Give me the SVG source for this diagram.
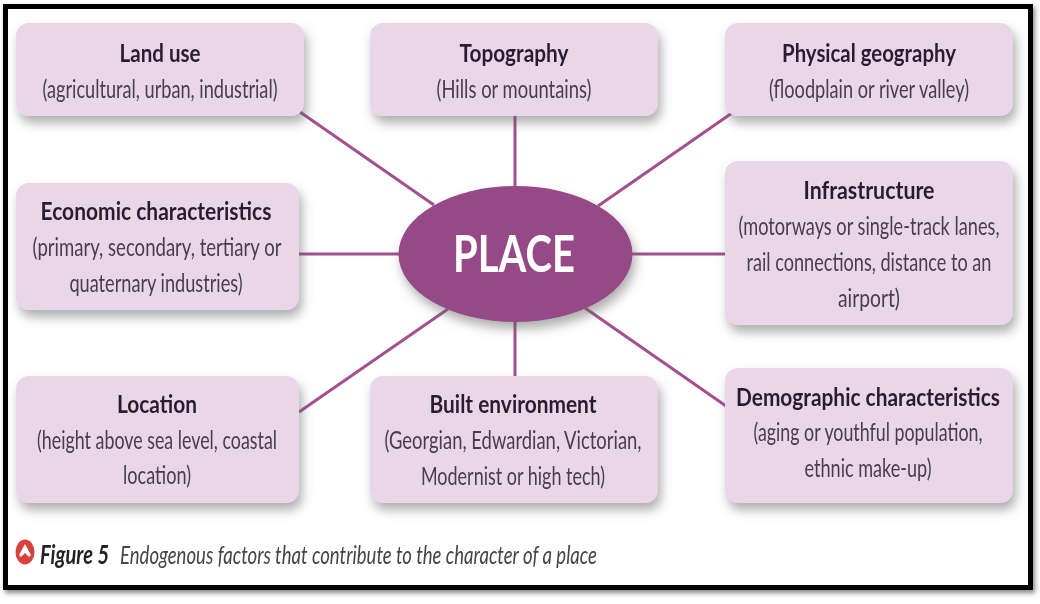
<svg xmlns="http://www.w3.org/2000/svg" width="1040" height="604" viewBox="0 0 1040 604">
<style>
.box{fill:#e9d6e9;filter:url(#sh)}
.t{font-family:"Lato","Liberation Sans",sans-serif;text-anchor:middle;fill:#493d47;font-size:25px}
.b{font-weight:700;fill:#2a1f2e}
.c{stroke:#a4508f;stroke-width:3;fill:none}
</style>
<defs>
<filter id="sh" x="-10%" y="-15%" width="125%" height="145%"><feDropShadow dx="3" dy="7" stdDeviation="5.500" flood-color="#5a5f5a" flood-opacity=".5"/></filter>
<filter id="fr" x="-2%" y="-2%" width="104%" height="104%"><feDropShadow dx="2" dy="3" stdDeviation="2.500" flood-color="#555" flood-opacity=".7"/></filter>
<filter id="bl" x="-5%" y="-5%" width="110%" height="110%"><feGaussianBlur stdDeviation=".55"/></filter>
</defs>
<rect width="1040" height="604" fill="#fff"/>
<rect x="5.500" y="6.500" width="1025" height="581" fill="#fff" stroke="#000" stroke-width="5" filter="url(#fr)"/>
<g id="connectors" class="c">
<line x1="300" y1="112" x2="434" y2="205"/>
<line x1="515" y1="114" x2="515" y2="186"/>
<line x1="732" y1="113" x2="598" y2="206"/>
<line x1="298" y1="254" x2="399" y2="254"/>
<line x1="632" y1="254" x2="726" y2="254"/>
<line x1="299" y1="412" x2="448" y2="309"/>
<line x1="515" y1="322" x2="515" y2="377"/>
<line x1="726" y1="406" x2="585" y2="308"/>
</g>
<g filter="url(#bl)">
<g id="land-use"><rect class="box" x="16" y="23" width="288" height="93" rx="13"/>
<text class="t b" transform="translate(160,62) scale(.78,1)" textLength="103.800" lengthAdjust="spacingAndGlyphs">Land use</text>
<text class="t" transform="translate(160,98) scale(.78,1)" textLength="301.300" lengthAdjust="spacingAndGlyphs">(agricultural, urban, industrial)</text></g>
<g id="topography"><rect class="box" x="370" y="23" width="288" height="93" rx="13"/>
<text class="t b" transform="translate(514,62) scale(.78,1)" textLength="139.700" lengthAdjust="spacingAndGlyphs">Topography</text>
<text class="t" transform="translate(514,98) scale(.78,1)" textLength="198.700" lengthAdjust="spacingAndGlyphs">(Hills or mountains)</text></g>
<g id="physical-geography"><rect class="box" x="725" y="23" width="288" height="93" rx="13"/>
<text class="t b" transform="translate(869,62) scale(.78,1)" textLength="223" lengthAdjust="spacingAndGlyphs">Physical geography</text>
<text class="t" transform="translate(869,98) scale(.78,1)" textLength="256.400" lengthAdjust="spacingAndGlyphs">(floodplain or river valley)</text></g>
<g id="economic-characteristics"><rect class="box" x="16" y="183" width="283" height="127" rx="13"/>
<text class="t b" transform="translate(156,220) scale(.78,1)" textLength="296" lengthAdjust="spacingAndGlyphs">Economic characteristics</text>
<text class="t" transform="translate(157,256) scale(.78,1)" textLength="319" lengthAdjust="spacingAndGlyphs">(primary, secondary, tertiary or</text>
<text class="t" transform="translate(156,292) scale(.78,1)" textLength="222" lengthAdjust="spacingAndGlyphs">quaternary industries)</text></g>
<g id="infrastructure"><rect class="box" x="725" y="161" width="288" height="164" rx="13"/>
<text class="t b" transform="translate(869,199) scale(.78,1)" textLength="168" lengthAdjust="spacingAndGlyphs">Infrastructure</text>
<text class="t" transform="translate(869,235) scale(.78,1)" textLength="334.600" lengthAdjust="spacingAndGlyphs">(motorways or single-track lanes,</text>
<text class="t" transform="translate(869,271) scale(.78,1)" textLength="314" lengthAdjust="spacingAndGlyphs">rail connections, distance to an</text>
<text class="t" transform="translate(869,307) scale(.78,1)" textLength="79.500" lengthAdjust="spacingAndGlyphs">airport)</text></g>
<g id="location"><rect class="box" x="16" y="376" width="283" height="127" rx="13"/>
<text class="t b" transform="translate(157,413) scale(.78,1)" textLength="102.600" lengthAdjust="spacingAndGlyphs">Location</text>
<text class="t" transform="translate(157,449) scale(.78,1)" textLength="307.700" lengthAdjust="spacingAndGlyphs">(height above sea level, coastal</text>
<text class="t" transform="translate(157,484) scale(.78,1)" textLength="87.200" lengthAdjust="spacingAndGlyphs">location)</text></g>
<g id="built-environment"><rect class="box" x="370" y="376" width="288" height="127" rx="13"/>
<text class="t b" transform="translate(513,413) scale(.78,1)" textLength="214" lengthAdjust="spacingAndGlyphs">Built environment</text>
<text class="t" transform="translate(513,449) scale(.78,1)" textLength="329.500" lengthAdjust="spacingAndGlyphs">(Georgian, Edwardian, Victorian,</text>
<text class="t" transform="translate(513,485) scale(.78,1)" textLength="236" lengthAdjust="spacingAndGlyphs">Modernist or high tech)</text></g>
<g id="demographic-characteristics"><rect class="box" x="725" y="368" width="288" height="135" rx="13"/>
<text class="t b" transform="translate(868,406) scale(.78,1)" textLength="338.500" lengthAdjust="spacingAndGlyphs">Demographic characteristics</text>
<text class="t" transform="translate(868,441) scale(.78,1)" textLength="293.600" lengthAdjust="spacingAndGlyphs">(aging or youthful population,</text>
<text class="t" transform="translate(868,477) scale(.78,1)" textLength="162.800" lengthAdjust="spacingAndGlyphs">ethnic make-up)</text></g>
<g id="place"><ellipse cx="515.500" cy="254" rx="117" ry="68" fill="#964a87" filter="url(#sh)"/>
<text transform="translate(514,272) scale(.87,1)" text-anchor="middle" font-family="Lato,'Liberation Sans',sans-serif" font-weight="700" font-size="52" fill="#fff" textLength="140" lengthAdjust="spacingAndGlyphs">PLACE</text></g>
<g id="caption">
<ellipse cx="25" cy="552" rx="9.500" ry="12.500" fill="#d8413c"/>
<path d="M25 544l6 11-2 2-4-4-4 4-2-2z" fill="#fff"/>
<text transform="translate(40,564) scale(.78,1)" font-family="Lato,'Liberation Sans',sans-serif" font-weight="700" font-style="italic" font-size="26" fill="#222" textLength="88.500" lengthAdjust="spacingAndGlyphs">Figure 5</text>
<text transform="translate(120,564) scale(.78,1)" font-family="Lato,'Liberation Sans',sans-serif" font-style="italic" font-size="25" fill="#444" textLength="611.500" lengthAdjust="spacingAndGlyphs">Endogenous factors that contribute to the character of a place</text>
</g>
</g>
</svg>
